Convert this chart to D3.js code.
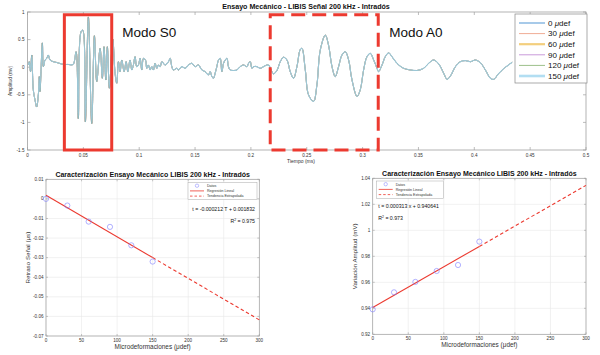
<!DOCTYPE html>
<html><head><meta charset="utf-8">
<script src="https://cdn.jsdelivr.net/npm/d3@7"></script>
<style>
html,body{margin:0;padding:0;background:#fff;}
svg{display:block;font-family:"Liberation Sans",Arial,Helvetica,sans-serif;}
</style></head>
<body>
<svg id="c" width="600" height="355"></svg>
<script>
// ---------- DATA ----------
// Top chart: waveform (time in ms, amplitude in mV)
const timeMs = [0.0007,0.0016,0.0027,0.0038,0.0052,0.0067,0.0082,0.0097,0.0106,0.0112,0.0133,0.0142,0.0157,0.0172,0.0186,0.0202,0.0231,0.0262,0.0291,0.0321,0.0363,0.0408,0.0435,0.0455,0.0479,0.0495,0.0518,0.0545,0.0575,0.0599,0.0620,0.0650,0.0670,0.0685,0.0701,0.0715,0.0733,0.0763,0.0784,0.0799,0.0814,0.0829,0.0844,0.0865,0.0883,0.0898,0.0918,0.0934,0.0948,0.0963,0.0978,0.0993,0.1008,0.1023,0.1038,0.1056,0.1068,0.1082,0.1098,0.1113,0.1127,0.1142,0.1158,0.1172,0.1187,0.1203,0.1217,0.1232,0.1262,0.1277,0.1292,0.1306,0.1337,0.1351,0.1382,0.1411,0.1441,0.1471,0.1501,0.1530,0.1561,0.1590,0.1620,0.1635,0.1651,0.1665,0.1680,0.1695,0.1710,0.1725,0.1740,0.1755,0.1770,0.1785,0.1799,0.1815,0.1844,0.1875,0.1904,0.1934,0.1964,0.1979,0.1994,0.2009,0.2023,0.2054,0.2083,0.2113,0.2143,0.2158,0.2188,0.2203,0.2233,0.2263,0.2292,0.2323,0.2352,0.2382,0.2412,0.2442,0.2457,0.2487,0.2516,0.2561,0.2591,0.2621,0.2666,0.2695,0.2726,0.2755,0.2785,0.2815,0.2845,0.2875,0.2905,0.2950,0.2979,0.3009,0.3039,0.3069,0.3099,0.3129,0.3143,0.3174,0.3203,0.3233,0.3263,0.3308,0.3367,0.3427,0.3487,0.3547,0.3591,0.3636,0.3681,0.3726,0.3756,0.3786,0.3831,0.3875,0.3920,0.3965,0.4010,0.4055,0.4099,0.4144,0.4174,0.4216,0.4261,0.4306,0.4339];
const amplitude = [0.04,0.10,-0.08,0.22,-0.41,-0.59,-0.72,-0.50,-0.17,-0.44,0.44,0.01,0.13,0.16,0.22,0.13,0.10,0.085,0.067,0.05,0.05,0.05,0.28,-0.93,0.64,0.67,-0.99,0.91,-1.02,0.57,-0.26,0.34,-0.20,0.37,-0.23,0.37,-0.38,0.51,-0.11,-0.29,0.10,-0.08,0.13,-0.08,0.10,-0.08,0.13,-0.05,0.04,0.19,0.01,0.04,0.16,-0.05,0.16,0.13,-0.02,0.04,-0.05,0.01,-0.05,0.07,-0.02,0.04,0.01,0.10,0.07,0.04,0.10,0.16,0.01,-0.05,-0.02,-0.05,0.01,-0.02,0.04,0.07,0.01,0.04,-0.05,-0.08,-0.14,-0.08,-0.17,-0.20,-0.11,0.01,0.13,0.16,-0.08,0.07,0.13,0.16,0.01,-0.05,-0.06,-0.05,0.01,0.04,0.01,0.07,0.10,-0.02,0.01,0.01,-0.02,0.01,0.04,0.04,-0.08,-0.12,-0.06,0.10,0.18,0.13,-0.08,-0.20,0.01,0.32,0.34,-0.05,-0.50,-0.62,-0.32,0.31,0.58,0.40,0.01,-0.17,0.01,0.22,0.28,0.13,-0.23,-0.53,-0.41,-0.05,0.19,0.25,0.13,-0.02,-0.08,0.04,0.19,0.26,0.19,0.07,-0.02,-0.05,-0.06,-0.02,0.07,0.13,0.06,-0.11,-0.22,-0.16,0.01,0.10,0.12,0.10,0.13,0.08,-0.05,-0.20,-0.22,-0.12,-0.03,0.04,0.09];
const strainLabels = ["0 μdef","30 μdef","60 μdef","90 μdef","120 μdef","150 μdef"];
const seriesColors = ["#5f9ed8","#f0ad95","#f3cf7e","#c99ada","#9cc08a","#b2def2"];
const legendWidths = [1.1,1.0,2.2,1.0,1.0,2.6];
const timeTicks = [0,0.05,0.1,0.15,0.2,0.25,0.3,0.35,0.4,0.45,0.5];
const timeTickLabels = ["0","0.05","0.1","0.15","0.2","0.25","0.3","0.35","0.4","0.45","0.5"];
const ampTicks = [-1.5,-1,-0.5,0,0.5,1];
const ampTickLabels = ["-1.5","-1","-0.5","0","0.5","1"];
// Mode annotation boxes [t0, t1, a0, a1]
const modeS0 = [0.033,0.0754,-1.5,0.95];
const modeA0 = [0.2173,0.314,-1.5,0.95];

// Bottom charts
const strains = [0,30,60,90,120,150];
const delayUs = [0.0,-0.0034,-0.0116,-0.0143,-0.0237,-0.0320];
const ampVar = [0.9392,0.9523,0.9603,0.9687,0.9733,0.9913];
const delayFit = [-0.000212,0.001832];   // slope, intercept
const ampFit = [0.000313,0.940641];
const strainTicks = [0,50,100,150,200,250,300];
const delayTicks = [-0.07,-0.06,-0.05,-0.04,-0.03,-0.02,-0.01,0,0.01];
const delayTickLabels = ["-0.07","-0.06","-0.05","-0.04","-0.03","-0.02","-0.01","0","0.01"];
const ampVarTicks = [0.92,0.94,0.96,0.98,1,1.02,1.04];
const ampVarTickLabels = ["0.92","0.94","0.96","0.98","1","1.02","1.04"];

// ---------- DRAW ----------
const svg = d3.select("#c");
const RED = "#ec3a30";
const AX = "#a0a0a0";
const TXT = "#333";

// ===== TOP CHART =====
(function(){
  const x = d3.scaleLinear().domain([0,0.5]).range([27.5,586]);
  const y = d3.scaleLinear().domain([-1.5,1]).range([150,12]);
  const g = svg.append("g");
  g.append("rect").attr("x",x(0)).attr("y",y(1)).attr("width",x(0.5)-x(0)).attr("height",y(-1.5)-y(1))
    .attr("fill","#fff").attr("stroke",AX).attr("stroke-width",0.8);
  timeTicks.forEach((t,i)=>{
    g.append("line").attr("x1",x(t)).attr("x2",x(t)).attr("y1",y(-1.5)).attr("y2",y(-1.5)-3).attr("stroke",AX).attr("stroke-width",0.7);
    g.append("line").attr("x1",x(t)).attr("x2",x(t)).attr("y1",y(1)).attr("y2",y(1)+3).attr("stroke",AX).attr("stroke-width",0.7);
    g.append("text").attr("x",x(t)).attr("y",y(-1.5)+6.5).attr("text-anchor","middle")
      .attr("font-size",4.6).attr("fill",TXT).text(timeTickLabels[i]);
  });
  ampTicks.forEach((a,i)=>{
    g.append("line").attr("x1",x(0)).attr("x2",x(0)+3).attr("y1",y(a)).attr("y2",y(a)).attr("stroke",AX).attr("stroke-width",0.7);
    g.append("line").attr("x1",x(0.5)).attr("x2",x(0.5)-3).attr("y1",y(a)).attr("y2",y(a)).attr("stroke",AX).attr("stroke-width",0.7);
    g.append("text").attr("x",x(0)-3).attr("y",y(a)+1.6).attr("text-anchor","end")
      .attr("font-size",4.6).attr("fill",TXT).text(ampTickLabels[i]);
  });
  g.append("text").attr("x",301).attr("y",163).attr("text-anchor","middle").attr("font-size",5).attr("fill",TXT).text("Tiempo (ms)");
  g.append("text").attr("transform",`translate(11.5,${y(-0.25)}) rotate(-90)`).attr("text-anchor","middle").attr("font-size",4.9).attr("fill",TXT).text("Amplitud (mv)");
  g.append("text").attr("x",306).attr("y",8.5).attr("text-anchor","middle").attr("font-size",7.1).attr("font-weight","bold").attr("fill","#111")
    .text("Ensayo Mecánico - LIBIS Señal 200 kHz - Intradós");

  const pts = timeMs.map((t,i)=>[t,amplitude[i]]);
  const line = d3.line().x(d=>x(d[0])).y(d=>y(d[1])).curve(d3.curveCatmullRom.alpha(0.5));
  strainLabels.forEach((s,i)=>{
    g.append("path").attr("d",line(pts)).attr("fill","none").attr("stroke",seriesColors[i])
      .attr("stroke-width",i===5?1.1:0.9).attr("stroke-opacity",0.9);
  });
  g.append("path").attr("d",line(pts)).attr("fill","none").attr("stroke","#5c8f9c").attr("stroke-width",0.45).attr("stroke-opacity",0.6);

  // mode boxes
  g.append("rect").attr("x",x(modeS0[0])).attr("y",y(modeS0[3])).attr("width",x(modeS0[1])-x(modeS0[0])).attr("height",y(modeS0[2])-y(modeS0[3]))
    .attr("fill","none").attr("stroke",RED).attr("stroke-width",3);
  g.append("rect").attr("x",x(modeA0[0])).attr("y",y(modeA0[3])).attr("width",x(modeA0[1])-x(modeA0[0])).attr("height",y(modeA0[2])-y(modeA0[3]))
    .attr("fill","none").attr("stroke",RED).attr("stroke-width",3).attr("stroke-dasharray","14,7");
  g.append("text").attr("x",x(modeS0[1])+10.5).attr("y",36.5).attr("font-size",13.5).attr("fill","#111").text("Modo S0");
  g.append("text").attr("x",x(modeA0[1])+11).attr("y",37).attr("font-size",13.5).attr("fill","#111").text("Modo A0");

  // legend
  const lg = g.append("g");
  lg.append("rect").attr("x",515).attr("y",14).attr("width",72).attr("height",69).attr("fill","#fff").attr("stroke","#888").attr("stroke-width",0.7);
  strainLabels.forEach((s,i)=>{
    const yy = 23 + i*10.6;
    lg.append("line").attr("x1",519).attr("x2",545).attr("y1",yy).attr("y2",yy).attr("stroke",seriesColors[i]).attr("stroke-width",legendWidths[i]);
    const t = lg.append("text").attr("x",548).attr("y",yy+2.8).attr("font-size",8).attr("fill","#111");
    const parts = s.split(" ");
    t.append("tspan").text(parts[0]+" ");
    t.append("tspan").attr("font-style","italic").text("μ");
    t.append("tspan").text("def");
  });
})();

// ===== BOTTOM CHARTS =====
function fitChart(opt){
  const x = d3.scaleLinear().domain([0,300]).range(opt.xr);
  const y = d3.scaleLinear().domain(opt.yd).range(opt.yr);
  const g = svg.append("g");
  strainTicks.forEach(t=>{
    g.append("line").attr("x1",x(t)).attr("x2",x(t)).attr("y1",opt.yr[0]).attr("y2",opt.yr[1]).attr("stroke","#e8e8e8").attr("stroke-width",0.6);
  });
  opt.yt.forEach(t=>{
    g.append("line").attr("x1",opt.xr[0]).attr("x2",opt.xr[1]).attr("y1",y(t)).attr("y2",y(t)).attr("stroke","#e8e8e8").attr("stroke-width",0.6);
  });
  g.append("rect").attr("x",opt.xr[0]).attr("y",opt.yr[1]).attr("width",opt.xr[1]-opt.xr[0]).attr("height",opt.yr[0]-opt.yr[1])
    .attr("fill","none").attr("stroke",AX).attr("stroke-width",0.7);
  strainTicks.forEach(t=>{
    g.append("line").attr("x1",x(t)).attr("x2",x(t)).attr("y1",opt.yr[0]).attr("y2",opt.yr[0]-2).attr("stroke",AX).attr("stroke-width",0.6);
    g.append("line").attr("x1",x(t)).attr("x2",x(t)).attr("y1",opt.yr[1]).attr("y2",opt.yr[1]+2).attr("stroke",AX).attr("stroke-width",0.6);
    g.append("text").attr("x",x(t)).attr("y",opt.yr[0]+6).attr("text-anchor","middle").attr("font-size",4.6).attr("fill",TXT).text(t);
  });
  opt.yt.forEach((t,i)=>{
    g.append("line").attr("x1",opt.xr[0]).attr("x2",opt.xr[0]+2).attr("y1",y(t)).attr("y2",y(t)).attr("stroke",AX).attr("stroke-width",0.6);
    g.append("line").attr("x1",opt.xr[1]).attr("x2",opt.xr[1]-2).attr("y1",y(t)).attr("y2",y(t)).attr("stroke",AX).attr("stroke-width",0.6);
    g.append("text").attr("x",opt.xr[0]-2.5).attr("y",y(t)+1.5).attr("text-anchor","end").attr("font-size",4.6).attr("fill",TXT).text(opt.ytl[i]);
  });
  const cx = (opt.xr[0]+opt.xr[1])/2;
  g.append("text").attr("x",cx).attr("y",opt.titleY).attr("text-anchor","middle").attr("font-size",7).attr("font-weight","bold").attr("fill","#111")
    .text("Caracterización Ensayo Mecánico LIBIS 200 kHz - Intradós");
  g.append("text").attr("x",cx).attr("y",opt.yr[0]+13).attr("text-anchor","middle").attr("font-size",6.4).attr("fill",TXT).text("Microdeformaciones (μdef)");
  g.append("text").attr("transform",`translate(${opt.ylx},${(opt.yr[0]+opt.yr[1])/2}) rotate(-90)`).attr("text-anchor","middle").attr("font-size",6.2).attr("fill",TXT).text(opt.ylabel);
  const f = v=>opt.fit[0]*v+opt.fit[1];
  g.append("line").attr("x1",x(0)).attr("y1",y(f(0))).attr("x2",x(150)).attr("y2",y(f(150))).attr("stroke",RED).attr("stroke-width",1.1);
  g.append("line").attr("x1",x(150)).attr("y1",y(f(150))).attr("x2",x(300)).attr("y2",y(f(300))).attr("stroke",RED).attr("stroke-width",1.1).attr("stroke-dasharray","3.5,2.5");
  strains.forEach((s,i)=>{
    g.append("circle").attr("cx",x(s)).attr("cy",y(opt.vals[i])).attr("r",2.6).attr("fill","none").attr("stroke","#7d7dff").attr("stroke-width",0.6);
  });
  const L = opt.leg;
  g.append("rect").attr("x",L[0]).attr("y",L[1]).attr("width",L[2]).attr("height",L[3]).attr("fill","#fff").attr("stroke","#aaa").attr("stroke-width",0.5);
  const rows = ["Datos","Regresión Lineal","Tendencia Extrapolada"];
  rows.forEach((r,i)=>{
    const yy = L[1]+3.2+i*5.2;
    if(i===0) g.append("circle").attr("cx",L[0]+9).attr("cy",yy).attr("r",1.7).attr("fill","none").attr("stroke","#7d7dff").attr("stroke-width",0.5);
    else g.append("line").attr("x1",L[0]+2).attr("x2",L[0]+16).attr("y1",yy).attr("y2",yy).attr("stroke",RED).attr("stroke-width",0.8).attr("stroke-dasharray",i===2?"2.5,2":null);
    g.append("text").attr("x",L[0]+19).attr("y",yy+1.3).attr("font-size",3.6).attr("fill",TXT).text(r);
  });
  g.append("text").attr("x",opt.eqX).attr("y",opt.eqY).attr("text-anchor",opt.eqA).attr("font-size",5.2).attr("fill","#111").text(opt.eq);
  const r2 = g.append("text").attr("x",opt.eqX).attr("y",opt.eqY+11.7).attr("text-anchor",opt.eqA).attr("font-size",5.2).attr("fill","#111");
  r2.append("tspan").text("R");
  r2.append("tspan").attr("font-size",3.4).attr("dy",-2.2).text("2");
  r2.append("tspan").attr("dy",2.2).text(" = "+opt.r2);
}

fitChart({xr:[46,259.3], yd:[-0.07,0.01], yr:[336,179.3], yt:delayTicks, ytl:delayTickLabels,
  vals:delayUs, fit:delayFit, titleY:177, ylx:30, ylabel:"Retraso Señal (μs)",
  leg:[188,182.5,69,17], eq:"t = -0.000212 T + 0.001832", eqX:255, eqY:211, eqA:"end", r2:"0.975"});
fitChart({xr:[372.7,586], yd:[0.92,1.04], yr:[334.3,178.3], yt:ampVarTicks, ytl:ampVarTickLabels,
  vals:ampVar, fit:ampFit, titleY:175.5, ylx:357, ylabel:"Variación Amplitud (mV)",
  leg:[376.7,181,66.6,17.3], eq:"t = 0.000313 x + 0.940641", eqX:378.3, eqY:208, eqA:"start", r2:"0.973"});
</script>
</body></html>
